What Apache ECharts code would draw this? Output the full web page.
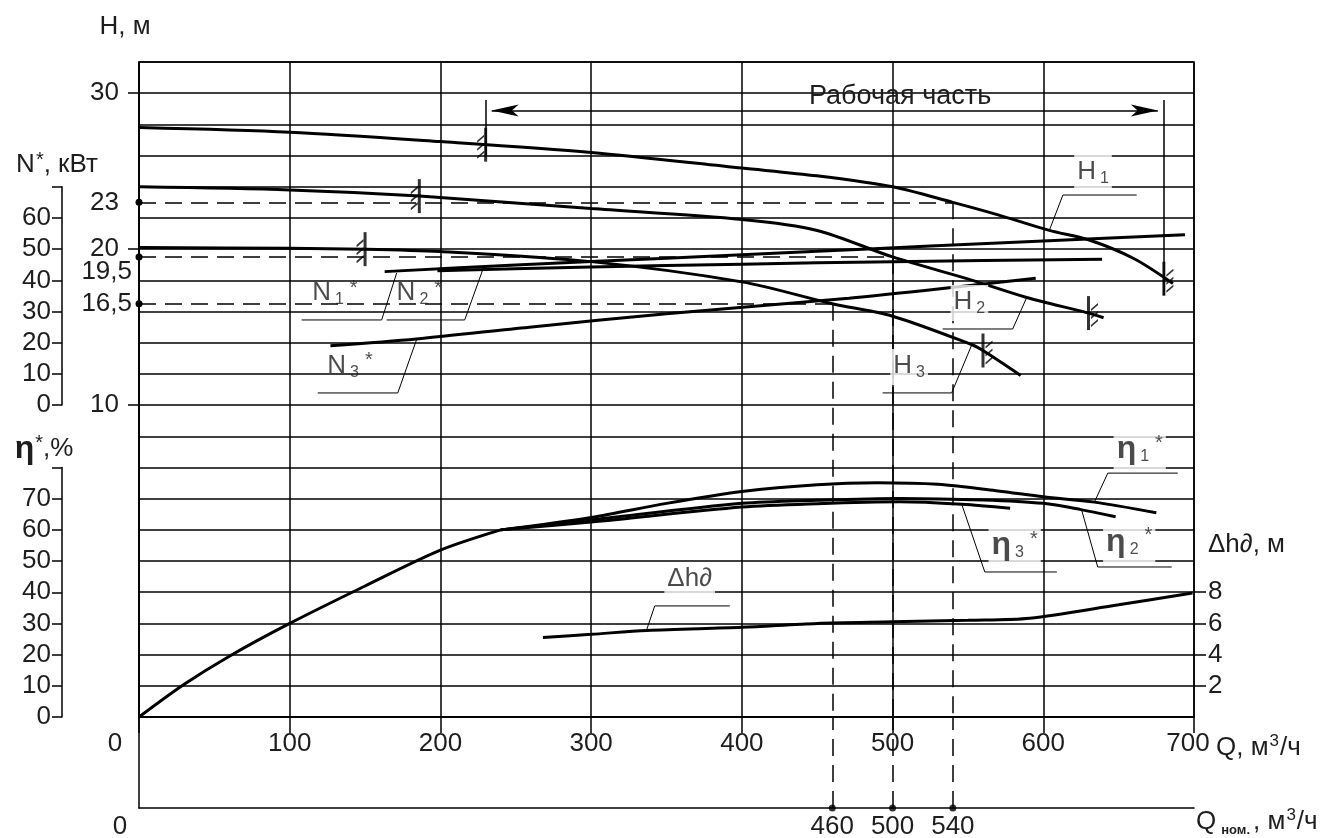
<!DOCTYPE html>
<html><head><meta charset="utf-8">
<script src="https://cdn.jsdelivr.net/npm/echarts@6/dist/echarts.min.js"></script>
<style>html,body{margin:0;padding:0;background:#fff}#c{width:1338px;height:838px}</style>
</head><body><div id="c"></div>
<script>
// ---------------- data ----------------
const qTicks = [0, 100, 200, 300, 400, 500, 600, 700];
const hAxisLabels = [10, 16.5, 19.5, 20, 23, 30];
const hAxisTicks = [10, 20, 30];
const nomQ = [460, 500, 540];           // nominal flows
const nomH = [16.5, 19.5, 23];          // heads at nominal flow (H3, H2, H1)
const workZone = [230, 680];            // "Рабочая часть" Q range

const H1 = [[0,27.8],[100,27.5],[200,26.9],[300,26.2],[400,25.2],[450,24.7],[500,24.0],[540,23.0],[570,22.2],[604,21.2],[630,20.6],[660,19.4],[686,17.8]];
const H2 = [[0,24.0],[100,23.8],[186,23.4],[300,22.6],[400,21.9],[450,21.2],[500,19.5],[553,18.0],[589,16.9],[630,15.9],[640,15.6]];
const H3 = [[0,20.1],[100,20.05],[150,20.0],[200,19.85],[300,19.2],[400,17.9],[460,16.5],[500,15.7],[552,13.9],[560,13.5],[585,11.9]];

const N1 = [[163,42.8],[250,44.9],[350,47.1],[450,49.3],[525,51.0],[600,52.6],[694,54.6]];
const N2 = [[198,43.1],[300,44.3],[400,45.2],[500,46.0],[639,46.8]];
const N3 = [[127,19.0],[184,21.2],[259,25.0],[350,29.3],[471,34.3],[550,38.3],[595,40.7]];

const etaC = [[0,0],[30,10.5],[60,19.5],[100,30],[150,42],[200,53.5],[240,60]];
const eta1 = [[240,60],[300,64],[350,68.5],[400,72.3],[450,74.5],[490,75.1],[530,74.6],[570,72.5],[600,70.6],[634,68.9],[675,65.5]];
const eta2 = [[240,60],[300,63.2],[400,68.5],[450,69.5],[505,70.1],[560,69.6],[600,68.5],[625,66.5],[648,64.2]];
const eta3 = [[240,60],[300,62.5],[400,67.3],[450,68.4],[505,69.0],[546,68.2],[578,66.9]];

const dh = [[268,5.1],[300,5.3],[337,5.55],[400,5.75],[450,6.0],[500,6.1],[550,6.2],[591,6.33],[650,7.2],[699,7.95]];

const breakL = [[230,26.7],[186,23.4],[150,20.0]];
const breakR = [[680,18.1],[630,15.9],[560,13.5]];

// ---------------- styling / layout ----------------
const FONT = "'Liberation Sans', Arial, sans-serif";
const TXT = '#1e1e1e';
const BLK = '#000';
const GL = {color: BLK, width: 1.5};

const rich = {
  m: {fontSize: 26, fontFamily: FONT, color: TXT, lineHeight: 30},
  s: {fontSize: 16, fontFamily: FONT, color: TXT, verticalAlign: 'bottom', lineHeight: 16, padding: [0,0,0,4]},
  a: {fontSize: 20, fontFamily: FONT, color: TXT, verticalAlign: 'top', lineHeight: 20, padding: [0,0,0,6]},
  b: {fontSize: 20, fontFamily: FONT, color: TXT, verticalAlign: 'top', lineHeight: 20, padding: [0,0,0,1]},
  p: {fontSize: 17, fontFamily: FONT, color: TXT, verticalAlign: 'top', lineHeight: 17, padding: [0,1,0,1]},
  e: {fontSize: 32, fontWeight: 'bold', fontFamily: FONT, color: TXT, lineHeight: 32},
  n: {fontSize: 13, fontWeight: 'bold', fontFamily: FONT, color: TXT, verticalAlign: 'bottom', lineHeight: 13, padding: [0,3,0,5]},
  z: {fontSize: 26, fontFamily: FONT, color: TXT, padding: [0,48,0,0]},
  z2: {fontSize: 26, fontFamily: FONT, color: TXT, padding: [0,38,0,0]},
  r: {fontSize: 26, fontFamily: FONT, color: TXT, padding: [0,12,0,0]},
  w: {fontSize: 26, fontFamily: FONT, color: TXT, padding: [0,13,0,0]},
  d: {fontSize: 26, fontFamily: FONT, color: TXT, padding: [30,0,0,0]}
};

// leader annotations: curve anchor -> elbow -> end of underline, text position (units of the curve's own axis)
const annots = [
  {g:'H', txt:'{m|H}{s|1}', pts:[[604,21.2],[613,23.47],[662,23.47]], at:[633,24.9], bg:true},
  {g:'H', txt:'{m|H}{s|2}', pts:[[589,16.9],[579.7,14.88],[533.2,14.88]], at:[551,16.55], bg:true},
  {g:'H', txt:'{m|H}{s|3}', pts:[[552.5,13.85],[539.2,10.78],[493.4,10.78]], at:[511,12.44], bg:true},
  {g:'N', txt:'{m|N}{s|1}{a|*}', pts:[[171,42.4],[161,27.3],[107.9,27.3]], at:[130,35.6], bg:false},
  {g:'N', txt:'{m|N}{s|2}{a|*}', pts:[[228,43.3],[216.1,27.3],[164.3,27.3]], at:[186,35.6], bg:false},
  {g:'N', txt:'{m|N}{s|3}{a|*}', pts:[[184.3,21.2],[171.7,3.9],[118.6,3.9]], at:[140,12.3], bg:false},
  {g:'E', txt:'{e|η}{s|1}{a|*}', pts:[[634.2,69.2],[642.8,78.2],[689.2,78.2]], at:[664,85.6], bg:true},
  {g:'E', txt:'{e|η}{s|2}{a|*}', pts:[[625.5,66.3],[636.1,48.1],[685.2,48.1]], at:[657,55.8], bg:true},
  {g:'E', txt:'{e|η}{s|3}{a|*}', pts:[[545.9,68.2],[561.2,46.5],[609,46.5]], at:[581,54.8], bg:true},
  {g:'D', txt:'{m|Δh∂}', pts:[[336.8,5.58],[342.2,7.12],[392,7.12]], at:[365.4,8.78], bg:true}
];
const AX = {H:[0,0], N:[1,2], E:[2,3], D:[3,4]};

// ---------------- option ----------------
const grids = [
  {left:139, right:144, top:62, bottom:121, show:true, borderColor:BLK, borderWidth:1.5, backgroundColor:'transparent'},
  {left:139, right:144, top:186.8, bottom:432.9},
  {left:139, right:144, top:467.5, bottom:121},
  {left:139, right:144, top:592.2, bottom:152.2},
  {left:139, right:144, top:717, bottom:30}
].map(g => Object.assign({outerBoundsMode:'none', containLabel:false}, g));

const hiddenX = gi => ({type:'value', gridIndex:gi, min:0, max:700, show:false, splitLine:{show:false}});

const xAxis = [
  {type:'value', gridIndex:0, min:0, max:700, interval:100, position:'bottom',
   axisLine:{show:true, onZero:false, lineStyle:GL}, axisTick:{show:true, length:16, lineStyle:GL},
   splitLine:{show:true, lineStyle:GL},
   axisLabel:{margin:14, fontSize:26, fontFamily:FONT, color:TXT, rich,
     formatter: v => v === 0 ? '{z|0}' : (v === 700 ? '{r|700}' : String(v))}},
  hiddenX(1), hiddenX(2), hiddenX(3),
  {type:'value', gridIndex:4, min:0, max:700, position:'bottom',
   axisLine:{show:true, onZero:false, lineStyle:GL}, axisTick:{show:false}, splitLine:{show:false},
   axisLabel:{margin:6, fontSize:26, fontFamily:FONT, color:TXT, rich, customValues:[0].concat(nomQ),
     formatter: v => v === 0 ? '{z2|0}' : String(v)}}
];

const sideAxis = (gi, min, max, step) => ({type:'value', gridIndex:gi, position:'left', offset:77, min, max, interval:step,
  axisLine:{show:true, onZero:false, lineStyle:GL}, axisTick:{show:true, length:10, lineStyle:GL}, splitLine:{show:false},
  axisLabel:{margin:11, fontSize:26, fontFamily:FONT, color:TXT, formatter: v => v === max ? '' : String(v)}});

const yAxis = [
  {type:'value', gridIndex:0, min:-10, max:32, interval:2, axisLine:{show:true, onZero:false, lineStyle:GL},
   axisTick:{show:false}, axisLabel:{show:false}, splitLine:{show:true, lineStyle:GL}},
  {type:'value', gridIndex:0, min:-10, max:32, position:'left', axisLine:{show:false, onZero:false}, splitLine:{show:false},
   axisTick:{show:true, length:11, lineStyle:GL, customValues:hAxisTicks},
   axisLabel:{margin:7, fontSize:26, fontFamily:FONT, color:TXT, rich, customValues:hAxisLabels,
     formatter: v => { const s = String(v).replace('.', ','); if (v === 19.5) return '{d|' + s + '}'; return v % 1 === 0 ? '{w|' + s + '}' : s; }}},
  sideAxis(1, 0, 70, 10),
  sideAxis(2, 0, 80, 10),
  {type:'value', gridIndex:3, position:'right', min:2, max:8, interval:2, axisLine:{show:false, onZero:false}, splitLine:{show:false},
   axisTick:{show:true, length:12, lineStyle:GL},
   axisLabel:{margin:14, fontSize:26, fontFamily:FONT, color:TXT}},
  {type:'value', gridIndex:4, min:0, max:1, axisLine:{show:true, onZero:false, lineStyle:GL}, axisTick:{show:false},
   axisLabel:{show:false}, splitLine:{show:false}}
];

const DASH = {color:BLK, width:1.5, type:[17,9]};
function curve(name, data, xi, yi, extra) {
  return Object.assign({name, type:'line', data, xAxisIndex:xi, yAxisIndex:yi, showSymbol:false, symbol:'none',
    smooth:0.3, clip:false, silent:true, z:5, lineStyle:{color:BLK, width:3}}, extra || {});
}
function refLine(q, h) {
  return {silent:true, animation:false, symbol:['circle','none'], symbolSize:7, label:{show:false},
    itemStyle:{color:BLK}, lineStyle:DASH, emphasis:{disabled:true},
    data:[[{coord:[0,h]},{coord:[q,h]}], [{coord:[q,h], symbol:'none'},{coord:[q,-10], symbol:'none'}]]};
}

const series = [
  curve('H1', H1, 0, 0, {markLine: refLine(nomQ[2], nomH[2])}),
  curve('H2', H2, 0, 0, {markLine: refLine(nomQ[1], nomH[1])}),
  curve('H3', H3, 0, 0, {markLine: refLine(nomQ[0], nomH[0])}),
  curve('N1*', N1, 1, 2), curve('N2*', N2, 1, 2), curve('N3*', N3, 1, 2),
  curve('η', etaC, 2, 3), curve('η1*', eta1, 2, 3), curve('η2*', eta2, 2, 3), curve('η3*', eta3, 2, 3),
  curve('Δh∂', dh, 3, 4),
  // break bars of the working zone
  {type:'scatter', xAxisIndex:0, yAxisIndex:0, data:breakL.concat(breakR), symbol:'rect', symbolSize:[3,34],
   itemStyle:{color:BLK}, silent:true, z:6,
   markLine:{silent:true, animation:false, label:{show:false}, emphasis:{disabled:true}, lineStyle:{color:BLK, width:1.5, type:'solid'},
     symbol:'none',
     data:[
       [{coord:[workZone[0]+4, 28.89], symbol:'arrow', symbolSize:[9,27]}, {coord:[workZone[1]-4, 28.89], symbol:'arrow', symbolSize:[9,27]}],
       [{coord:[workZone[0], 29.56]}, {coord:[workZone[0], 26.04]}],
       [{coord:[workZone[1], 29.56]}, {coord:[workZone[1], 17.06]}]
     ]},
   markPoint:{silent:true, symbol:'circle', symbolSize:0, data:[{coord:[505, 29.8], label:{show:true, position:'inside',
     formatter:'Рабочая часть', fontSize:27, fontFamily:FONT, color:TXT}}]}},
  {type:'scatter', xAxisIndex:0, yAxisIndex:0, data:breakL, symbol:'path://M0,8 L6,2 M0,16 L6,10 M0,24 L6,18',
   symbolSize:[7,22], symbolOffset:[-5,2], itemStyle:{color:'none', borderColor:BLK, borderWidth:1.2}, silent:true, z:6},
  {type:'scatter', xAxisIndex:0, yAxisIndex:0, data:breakR, symbol:'path://M0,8 L6,2 M0,16 L6,10 M0,24 L6,18',
   symbolSize:[7,22], symbolOffset:[6,2], itemStyle:{color:'none', borderColor:BLK, borderWidth:1.2}, silent:true, z:6},
  // nominal flow axis: dots + dashed verticals
  {type:'scatter', xAxisIndex:4, yAxisIndex:5, data:nomQ.map(q => [q, 0]), symbol:'circle', symbolSize:7,
   itemStyle:{color:BLK}, silent:true, clip:false,
   markLine:{silent:true, animation:false, symbol:'none', label:{show:false}, lineStyle:DASH, emphasis:{disabled:true},
     data:nomQ.map(q => ({xAxis:q}))}}
];

annots.forEach(a => {
  const [xi, yi] = AX[a.g];
  series.push({type:'line', xAxisIndex:xi, yAxisIndex:yi, data:a.pts, showSymbol:false, symbol:'none', clip:false,
    silent:true, z:4, lineStyle:{color:BLK, width:1}});
  series.push({type:'scatter', xAxisIndex:xi, yAxisIndex:yi, clip:false, silent:true, z:7, symbol:'circle', symbolSize:1,
    itemStyle:{color:'rgba(0,0,0,0)'},
    data:[{value:a.at, label:{show:true, position:'inside', formatter:a.txt, rich,
      backgroundColor: a.bg ? '#fff' : 'transparent', padding:[2,3,4,3]}}]});
});

const gtext = (x, y, text, align) => ({type:'text', x, y, silent:true, z:10,
  style:{text, rich, font:'26px ' + FONT, fill:TXT, align: align || 'center', verticalAlign:'middle'}});

const option = {
  animation:false,
  backgroundColor:'#fff',
  textStyle:{fontFamily:FONT},
  grid:grids, xAxis, yAxis, series,
  graphic:[
    gtext(125, 27, '{m|H, м}'),
    gtext(57, 165, '{m|N}{b|*}{m|, кВт}'),
    gtext(44, 449, '{e|η}{b|*}{m|,%}'),
    gtext(1216, 748, '{m|Q, м}{p|3}{m|/ч}', 'left'),
    gtext(1196, 822, '{m|Q}{n|ном.}{m|, м}{p|3}{m|/ч}', 'left'),
    gtext(1208, 545, '{m|Δh∂, м}', 'left')
  ]
};

const chart = echarts.init(document.getElementById('c'), null, {renderer:'canvas'});
chart.setOption(option);
</script></body></html>
